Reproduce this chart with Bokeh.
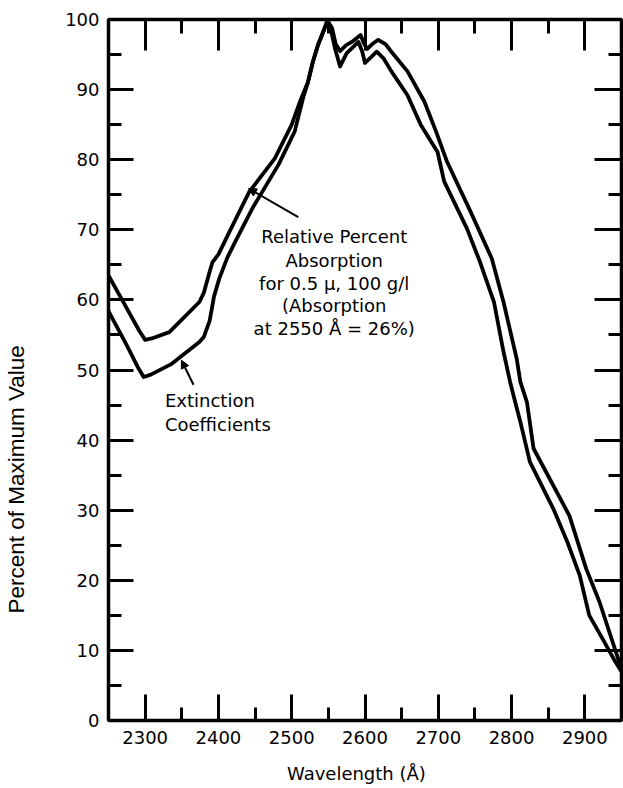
from bokeh.plotting import figure
from bokeh.models import Range1d, LinearAxis, SingleIntervalTicker, FixedTicker, Label, Arrow, NormalHead
from bokeh.embed import file_html
from bokeh.resources import INLINE

# Extinction coefficients (percent of maximum)
ext_wavelength = [2250, 2275, 2290, 2298, 2307, 2335, 2374, 2380, 2388, 2394, 2401, 2412,
                  2423, 2446, 2482, 2504, 2516, 2522, 2529, 2536, 2544, 2548, 2554, 2559,
                  2566, 2575, 2583, 2591, 2596, 2600, 2608, 2616, 2625, 2636, 2658, 2676,
                  2699, 2708, 2739, 2757, 2776, 2789, 2798, 2805, 2812, 2825, 2857, 2876,
                  2893, 2906, 2925, 2942, 2950]
ext_percent = [58.4, 53.5, 50.4, 49.0, 49.3, 50.8, 54.0, 54.7, 57.0, 60.5, 63.0, 66.0,
               68.3, 73.0, 79.3, 84.0, 89.0, 91.0, 94.0, 96.4, 98.5, 99.7, 98.3, 95.9,
               93.3, 95.2, 96.0, 96.8, 95.5, 93.8, 94.6, 95.4, 94.5, 92.6, 89.2, 85.0,
               81.1, 76.9, 70.2, 65.4, 59.7, 52.6, 48.3, 45.4, 42.6, 36.9, 30.2, 25.5,
               20.7, 15.0, 11.5, 8.3, 7.0]

# Relative percent absorption
abs_wavelength = [2250, 2275, 2292, 2300, 2309, 2333, 2374, 2380, 2388, 2392, 2400, 2415,
                  2442, 2477, 2500, 2512, 2522, 2529, 2536, 2544, 2549, 2555, 2560, 2566,
                  2574, 2582, 2594, 2599, 2603, 2610, 2618, 2628, 2636, 2658, 2681, 2697,
                  2712, 2744, 2773, 2789, 2807, 2812, 2821, 2830, 2879, 2902, 2920, 2947,
                  2950]
abs_percent = [63.5, 58.8, 55.6, 54.3, 54.5, 55.4, 59.7, 61.0, 64.0, 65.4, 66.5, 69.7,
               75.4, 80.2, 85.0, 88.5, 91.0, 94.0, 96.4, 98.5, 99.8, 98.8, 96.5, 95.5,
               96.3, 96.8, 97.8, 96.5, 95.8, 96.5, 97.1, 96.5, 95.4, 92.6, 88.3, 84.0,
               79.7, 72.6, 65.9, 59.7, 51.6, 48.3, 45.4, 38.8, 29.2, 21.6, 16.9, 8.3,
               7.3]

abs_label_lines = ["Relative Percent", "Absorption", "for 0.5 \u03bc, 100 g/l",
                   "(Absorption", "at 2550 \u00c5 = 26%)"]
abs_label_x = 2558
abs_label_y = [69.0, 65.6, 62.3, 59.2, 55.9]
ext_label_lines = ["Extinction", "Coefficients"]
ext_label_x = 2327
ext_label_y = [45.6, 42.2]
abs_arrow = (2509, 71.8, 2441, 75.9)
ext_arrow = (2366, 47.9, 2349.5, 51.4)

x_title = "Wavelength (\u00c5)"
y_title = "Percent of Maximum Value"

FONT = "DejaVu Sans"

p = figure(width=623, height=788, output_backend="svg", toolbar_location=None,
           x_range=Range1d(2250, 2950), y_range=Range1d(0, 100),
           min_border_left=107, min_border_right=2, min_border_top=19, min_border_bottom=68)
p.grid.visible = False
p.background_fill_color = "white"
p.border_fill_color = "white"
p.outline_line_color = "black"
p.outline_line_width = 3.5
p.outline_line_alpha = 1.0


def style_axis(ax, interval, major_in, minor_in, labels, standoff=8):
    ax.ticker = SingleIntervalTicker(interval=interval, num_minor_ticks=2)
    ax.axis_line_color = None
    ax.major_tick_in = major_in
    ax.major_tick_out = 0
    ax.minor_tick_in = minor_in
    ax.minor_tick_out = 0
    ax.major_tick_line_color = "black"
    ax.minor_tick_line_color = "black"
    ax.major_tick_line_width = 3
    ax.minor_tick_line_width = 3
    if labels:
        ax.major_label_text_font = FONT
        ax.major_label_text_font_size = "18px"
        ax.major_label_text_color = "black"
        ax.major_label_standoff = standoff
    else:
        ax.major_label_text_font_size = "0px"
        ax.major_label_text_color = None
        ax.major_label_standoff = 0


def title_axis(text, font, size, standoff):
    ax = LinearAxis(ticker=FixedTicker(ticks=[]))
    ax.axis_line_color = None
    ax.major_tick_in = 0
    ax.major_tick_out = 0
    ax.minor_tick_in = 0
    ax.minor_tick_out = 0
    ax.major_label_text_font_size = "0px"
    ax.major_label_text_color = None
    ax.major_label_standoff = 0
    ax.axis_label = text
    ax.axis_label_text_font = font
    ax.axis_label_text_font_size = size
    ax.axis_label_text_font_style = "normal"
    ax.axis_label_text_color = "black"
    ax.axis_label_standoff = standoff
    return ax


style_axis(p.xaxis[0], 100, 26, 13, True, standoff=10)
style_axis(p.yaxis[0], 10, 25, 13, True, standoff=9)

top_axis = LinearAxis()
style_axis(top_axis, 100, 31, 14, False)
p.add_layout(top_axis, "above")
right_axis = LinearAxis()
style_axis(right_axis, 10, 27, 13, False)
p.add_layout(right_axis, "right")

# trailing blank space shifts the centred titles to where the original prints them
p.add_layout(title_axis(x_title + " " * 3, FONT, "18px", 16), "below")
p.add_layout(title_axis(y_title + " " * 35, "Liberation Sans", "22.5px", 34), "left")

p.line(ext_wavelength, ext_percent, line_color="black", line_width=3.8, line_join="round")
p.line(abs_wavelength, abs_percent, line_color="black", line_width=3.8, line_join="round")

for txt, yy in zip(abs_label_lines, abs_label_y):
    p.add_layout(Label(x=abs_label_x, y=yy, text=txt, text_align="center", text_baseline="middle",
                       text_font=FONT, text_font_size="18px", text_color="black"))
for txt, yy in zip(ext_label_lines, ext_label_y):
    p.add_layout(Label(x=ext_label_x, y=yy, text=txt, text_align="left", text_baseline="middle",
                       text_font=FONT, text_font_size="18px", text_color="black"))

for (x0, y0, x1, y1) in (abs_arrow, ext_arrow):
    p.add_layout(Arrow(end=NormalHead(size=8, fill_color="black", line_color="black", line_width=1),
                       x_start=x0, y_start=y0, x_end=x1, y_end=y1,
                       line_color="black", line_width=2))

open("out.html", "w").write(file_html(p, INLINE))
